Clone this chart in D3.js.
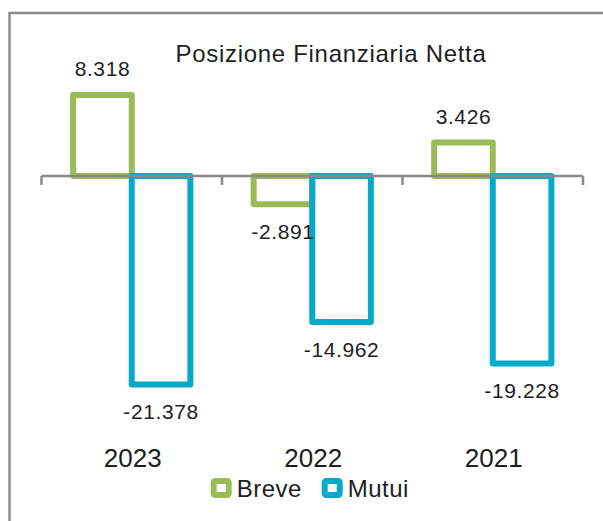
<!DOCTYPE html>
<html>
<head>
<meta charset="utf-8">
<script src="https://cdn.jsdelivr.net/npm/d3@7"></script>
<style>
  body { margin: 0; background: #fff; }
  text { font-family: "Liberation Sans", Arial, sans-serif; fill: #1e1e1e; }
</style>
</head>
<body>
<div id="chart"></div>
<script>
var years = ["2023", "2022", "2021"],
    seriesNames = ["Breve", "Mutui"],
    breve = [8318, -2891, 3426],
    mutui = [-21378, -14962, -19228],
    colors = ["#9bbb59", "#07a9c8"];

var width = 603,
    height = 521;

// italian style: dot as thousands separator, plain hyphen for negatives
var fmt = d3.formatLocale({decimal: ",", thousands: ".", grouping: [3], currency: ["", "€"], minus: "-"}).format(",d");

var svg = d3.select("#chart")
  .append("svg")
  .attr("width", width)
  .attr("height", height);

// outer frame (runs off the right and bottom edges)
svg.append("rect")
  .attr("x", 9.5)
  .attr("y", 13)
  .attr("width", 700)
  .attr("height", 700)
  .attr("fill", "none")
  .attr("stroke", "#8c8c8c")
  .attr("stroke-width", 2.5);

// title
svg.append("text")
  .attr("x", 331)
  .attr("y", 62)
  .attr("text-anchor", "middle")
  .style("font-size", "24px")
  .style("letter-spacing", "0.7px")
  .text("Posizione Finanziaria Netta");

// scales
var x0 = d3.scaleBand().domain(years).range([41.5, 583]).padding(0);
var x1 = d3.scaleBand().domain(seriesNames).range([0, x0.bandwidth()]).paddingInner(0).paddingOuter(0.54);
var y = d3.scaleLinear().domain([-25000, 10000]).range([419.75, 78.5]);

var points = [];
years.forEach(function(yr, i) {
  points.push({year: yr, name: "Breve", k: 0, value: breve[i]});
  points.push({year: yr, name: "Mutui", k: 1, value: mutui[i]});
});

var bx = d => x0(d.year) + x1(d.name);

svg.append("g")
  .selectAll("rect")
  .data(points)
  .enter()
  .append("rect")
  .attr("x", bx)
  .attr("y", d => y(Math.max(0, d.value)))
  .attr("width", x1.bandwidth())
  .attr("height", d => Math.abs(y(d.value) - y(0)))
  .attr("fill", "none")
  .attr("stroke", d => colors[d.k])
  .attr("stroke-width", 6)
  .attr("stroke-linejoin", "round");

// category axis on the zero line
var axis = svg.append("g")
  .attr("transform", "translate(0," + y(0) + ")");

axis.append("line")
  .attr("x1", 41.5)
  .attr("x2", 583)
  .attr("stroke", "#898989")
  .attr("stroke-width", 2.5);

var tickPos = years.map(d => x0(d)).concat([x0.range()[1]]);
axis.selectAll("line.tick")
  .data(tickPos)
  .enter()
  .append("line")
  .attr("class", "tick")
  .attr("x1", d => d)
  .attr("x2", d => d)
  .attr("y1", 0)
  .attr("y2", 9)
  .attr("stroke", "#898989")
  .attr("stroke-width", 2.5);

// value labels, on top of the bars
svg.append("g")
  .selectAll("text")
  .data(points)
  .enter()
  .append("text")
  .attr("x", d => bx(d) + x1.bandwidth() / 2)
  .attr("y", d => d.value >= 0 ? y(d.value) - 19 : y(d.value) + 35)
  .attr("text-anchor", "middle")
  .style("font-size", "21px")
  .style("letter-spacing", "0.6px")
  .text(d => fmt(d.value));

// category labels
svg.selectAll("text.year")
  .data(years)
  .enter()
  .append("text")
  .attr("class", "year")
  .attr("x", d => x0(d) + x0.bandwidth() / 2 + 1)
  .attr("y", 467)
  .attr("text-anchor", "middle")
  .style("font-size", "26px")
  .text(d => d);

// legend
var legendX = [213.7, 324.7];
var legend = svg.selectAll("g.legend")
  .data(seriesNames)
  .enter()
  .append("g")
  .attr("class", "legend")
  .attr("transform", (d, i) => "translate(" + legendX[i] + ",481)");

legend.append("rect")
  .attr("width", 15)
  .attr("height", 14)
  .attr("rx", 1.5)
  .attr("fill", "#fff")
  .attr("stroke", (d, i) => colors[i])
  .attr("stroke-width", 6);

legend.append("text")
  .attr("x", 23)
  .attr("y", 16)
  .style("font-size", "24px")
  .style("letter-spacing", "0.5px")
  .text(d => d);
</script>
</body>
</html>
